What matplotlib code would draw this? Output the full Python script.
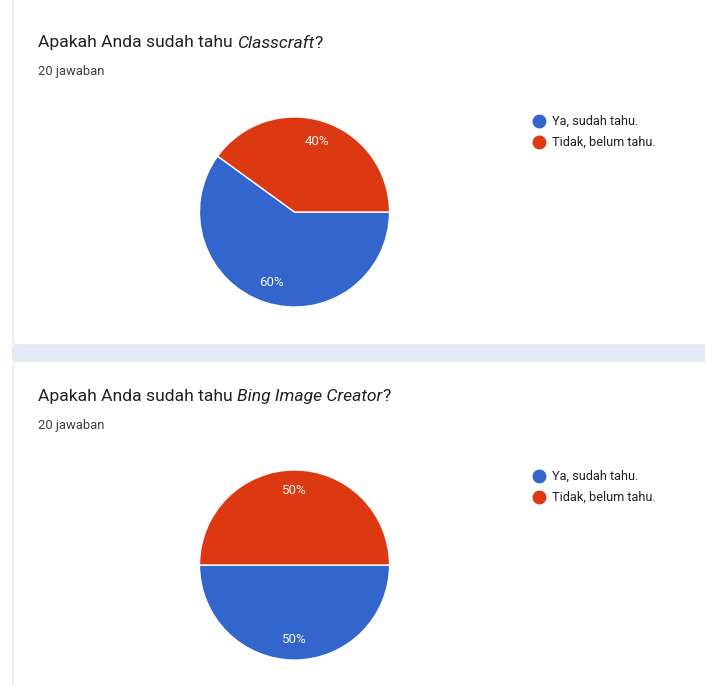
import matplotlib.pyplot as plt
from matplotlib.patches import FancyBboxPatch, Rectangle

plt.rcParams['font.family'] = ['Roboto', 'DejaVu Sans']

# data
labels = ["Ya, sudah tahu.", "Tidak, belum tahu."]
colors = ["#3366cc", "#dc3912"]
questions = ["Classcraft", "Bing Image Creator"]
responses = [20, 20]
ya_pct = [60, 50]
tidak_pct = [40, 50]

W, H = 705, 686
fig = plt.figure(figsize=(W / 100, H / 100), dpi=100)
fig.patch.set_facecolor("white")
renderer = fig.canvas.get_renderer()


def px(x, y):
    # pixel coords (top-left origin) -> figure fraction
    return x / W, 1 - y / H


# background strip between cards
fig.patches.append(Rectangle(px(12, 361), (W - 12) / W, 16 / H,
                             transform=fig.transFigure, facecolor="#e2eaf5",
                             edgecolor="none", zorder=-3))
# card outlines
for top, bottom in [(-20, 345), (361, 720)]:
    x0, y0 = px(13, bottom)
    fig.patches.append(FancyBboxPatch((x0, y0), (W + 20) / W, (bottom - top) / H,
                                      boxstyle="round,pad=0,rounding_size=0.008",
                                      transform=fig.transFigure, facecolor="white",
                                      edgecolor="#e3e6ea", linewidth=1.0, zorder=-2))

card_tops = [0, 353]
legend_tops = [121, 476]
for i in range(2):
    t = card_tops[i]
    # title, with the product name in italics
    x_cur = 38
    ty = 1 - (t + 43) / H
    for part, style in [("Apakah Anda sudah tahu ", "normal"),
                        (questions[i], "italic"), ("?", "normal")]:
        txt = fig.text(x_cur / W, ty, part, fontsize=12.6, color="#202124",
                       style=style, va="center", ha="left")
        x_cur += txt.get_window_extent(renderer).width
    sx, sy = px(38, t + 72)
    fig.text(sx, sy, f"{responses[i]} jawaban", fontsize=9.4, color="#3c4043",
             va="center", ha="left")

    # pie
    cx, cy, r = 294.5, t + 212, 96
    ax = fig.add_axes([(cx - r) / W, 1 - (cy + r) / H, 2 * r / W, 2 * r / H])
    vals = [ya_pct[i], tidak_pct[i]]
    wedges, _, autotexts = ax.pie(vals, colors=colors, startangle=360 * tidak_pct[i] / 100,
                                  counterclock=True, autopct="%d%%", pctdistance=0.78,
                                  wedgeprops=dict(edgecolor="white", linewidth=1.0),
                                  textprops=dict(color="#f4f4f4", fontsize=9.5))
    ax.set_xlim(-1.01, 1.01)
    ax.set_ylim(-1.01, 1.01)
    ax.set_aspect("auto")
    ax.axis("off")

    # legend
    for j, lab in enumerate(labels):
        lx, ly = px(539, legend_tops[i] + 21 * j)
        fig.add_artist(plt.Line2D([lx], [ly], marker="o", markersize=9,
                                  color=colors[j], linestyle="none",
                                  transform=fig.transFigure))
        fig.text(lx + 13 / W, ly, lab, fontsize=9.2, color="#202124",
                 va="center", ha="left")

fig.savefig("out.png", dpi=100)
